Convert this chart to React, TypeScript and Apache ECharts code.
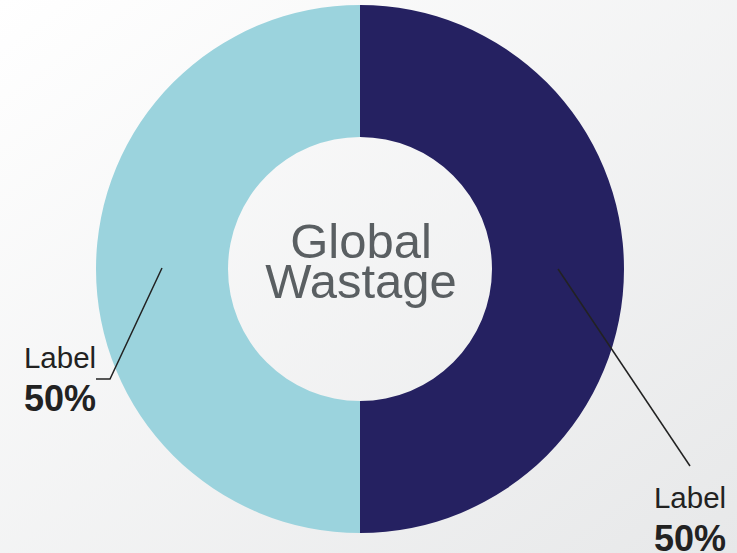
import React, { useEffect, useRef } from "react";
import * as echarts from "echarts";

const categories = ["Label", "Label"];
const values = [50, 50];
const percentLabels = ["50%", "50%"];
const sliceColors = ["#252161", "#9bd3dd"];
const centerTitle = "Global\nWastage";

export default function App() {
  const ref = useRef<HTMLDivElement>(null);
  useEffect(() => {
    document.body.style.margin = "0";
    const chart = echarts.init(ref.current!, undefined, { renderer: "svg" });
    const cx = 360;
    const cy = 269;
    const guideLines = [
      [
        [558, 269],
        [690, 466],
      ],
      [
        [162, 268],
        [110, 379],
        [96, 379],
      ],
    ];
    chart.setOption({
      animation: false,
      backgroundColor: {
        type: "linear",
        x: 0,
        y: 0,
        x2: 1,
        y2: 1,
        colorStops: [
          { offset: 0, color: "#ffffff" },
          { offset: 1, color: "#e7e8e9" },
        ],
      },
      graphic: [
        {
          type: "text",
          x: 361,
          y: 261,
          z: 100,
          style: {
            text: centerTitle,
            fill: "#5a5f62",
            font: "49px 'Liberation Sans', Arial, sans-serif",
            lineHeight: 40,
            align: "center",
            verticalAlign: "middle",
          },
        },
        ...guideLines.map((pts) => ({
          type: "polyline",
          z: 100,
          silent: true,
          shape: { points: pts },
          style: { stroke: "#222222", lineWidth: 1.5, fill: null },
        })),
      ],
      series: [
        {
          type: "pie",
          center: [cx, cy],
          radius: [132, 264],
          startAngle: 90,
          clockwise: true,
          data: categories.map((name, i) => ({
            name,
            value: values[i],
            itemStyle: { color: sliceColors[i] },
          })),
          label: {
            show: true,
            position: "outside",
            overflow: "none",
            formatter: (p: any) => `{a|${p.name}}\n{b|${percentLabels[p.dataIndex]}}`,
            fontFamily: "'Liberation Sans', Arial, sans-serif",
            rich: {
              a: {
                fontSize: 29.5,
                lineHeight: 34,
                color: "#222222",
                fontFamily: "'Liberation Sans', Arial, sans-serif",
                align: "center",
              },
              b: {
                fontSize: 36,
                fontWeight: "bold",
                lineHeight: 48,
                color: "#222222",
                fontFamily: "'Liberation Sans', Arial, sans-serif",
                align: "center",
              },
            },
          },
          labelLine: { show: false },
          labelLayout: (params: any) => {
            if (params.dataIndex === 0) {
              return { x: 690, y: 521, align: "center", verticalAlign: "middle" };
            }
            return { x: 60, y: 381, align: "center", verticalAlign: "middle" };
          },
          emphasis: { disabled: true },
        },
      ],
    });
    return () => chart.dispose();
  }, []);
  return <div ref={ref} style={{ width: 737, height: 553 }} />;
}
